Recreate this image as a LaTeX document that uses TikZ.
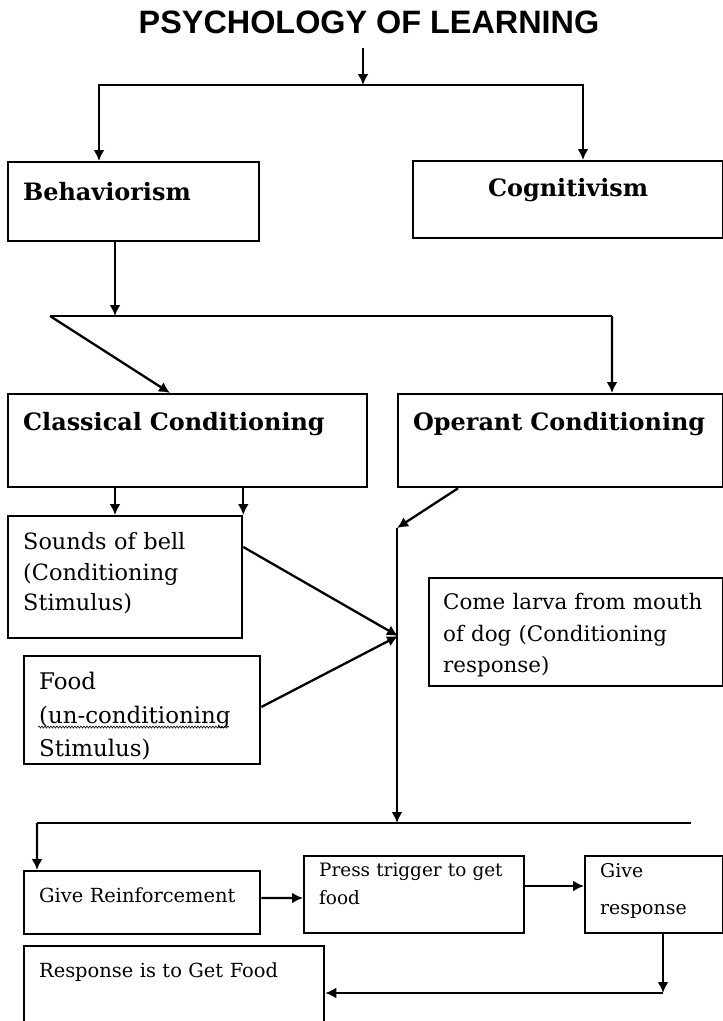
\documentclass[tikz,border=0pt]{standalone}
\usepackage{fontspec}
\setmainfont{DejaVu Serif}
\newfontfamily\titlefont{Liberation Sans}
\usetikzlibrary{arrows.meta,decorations.pathmorphing}

\begin{document}
\begin{tikzpicture}[>={Latex[length=11bp,width=11bp]},line width=2.3bp,
  box/.style={draw,anchor=north west,align=left,inner xsep=15bp,inner ysep=0bp},
  head/.style={box,font=\fontsize{24pt}{28pt}\selectfont\bfseries},
  txt/.style={box,font=\fontsize{22.5pt}{31pt}\selectfont},
  small/.style={box,font=\fontsize{19.5pt}{28pt}\selectfont}]

\useasboundingbox (0bp,0bp) rectangle (723bp,-1021bp);

\node (title) at (369bp,-33bp)[anchor=base,inner ysep=14bp,font=\titlefont\fontsize{32.5pt}{32.5pt}\selectfont\bfseries] {PSYCHOLOGY OF LEARNING};

% first level
\node (beh) at (7bp,-161bp)[head,text width=221bp,text height=38bp,text depth=41bp] {Behaviorism};
\node (cog) at (412bp,-160bp)[head,align=center,text width=280bp,text height=35bp,text depth=42bp] {Cognitivism};

% second level
\node (cla) at (7bp,-393bp)[head,text width=329bp,text height=36bp,text depth=57bp] {\mbox{Classical Conditioning}};
\node (ope) at (397bp,-393bp)[head,text width=295bp,text height=36bp,text depth=57bp] {\mbox{Operant Conditioning}};

% classical conditioning
\node (snd) at (7bp,-515bp)[txt,text width=204bp,text height=33bp,text depth=89bp] {Sounds of bell\\(Conditioning\\Stimulus)};
\node (food) at (23bp,-655bp)[txt,font=\fontsize{23pt}{34pt}\selectfont,text width=206bp,text height=33bp,text depth=75bp] {Food\\(un-conditioning\\Stimulus)};
\node (come) at (428bp,-577bp)[txt,font=\fontsize{21.5pt}{32pt}\selectfont,inner xsep=14bp,text width=266bp,text height=31bp,text depth=77bp] {Come larva from mouth\\of dog (Conditioning\\response)};
\draw [line width=0.6bp,decorate,decoration={snake,amplitude=1bp,segment length=3bp}] ([xshift=15bp,yshift=-72bp]food.north west) -- ++(191bp,0);

% operant conditioning
\node (rein) at (23bp,-870bp)[small,text width=206bp,text height=31bp,text depth=32bp] {Give Reinforcement};
\node (press) at (303bp,-855bp)[small,font=\fontsize{18.5pt}{28pt}\selectfont,text width=190bp,text height=20bp,text depth=57bp] {Press trigger to get\\food};
\node (resp) at (584bp,-855bp)[small,font=\fontsize{19pt}{37pt}\selectfont,text width=108bp,text height=21bp,text depth=56bp] {Give\\response};
\node (get) at (23bp,-945bp)[small,text width=270bp,text height=31bp,text depth=59bp] {Response is to Get Food};

\coordinate (top) at (363bp,-85bp);
\coordinate (split2) at (115bp,-316bp);
\coordinate (l2) at (50bp,-316bp);
\coordinate (r2) at (612bp,-316bp);
\coordinate (dot) at (398bp,-636bp);
\coordinate (v1) at (397bp,-528bp);
\coordinate (split3) at (397bp,-823bp);
\coordinate (l3) at (37bp,-823bp);
\coordinate (r3) at (691bp,-823bp);
\coordinate (c4) at (663bp,-993bp);

\draw [->] (title.south -| top) -- (top);
\draw [->] (top) -| ([xshift=92bp]beh.north west);
\draw [->] (top) -| ([xshift=171bp]cog.north west);
\draw [->] ([xshift=108bp]beh.south west) -- (split2);
\draw (l2) -- (r2);
\draw [->] (l2) -- ([xshift=163bp]cla.north west);
\draw [->] (r2) -- ([xshift=215bp]ope.north west);
\draw [->] ([xshift=108bp]cla.south west) -- ([xshift=108bp]snd.north west);
\draw [->] (snd.north east |- cla.south) -- (snd.north east);
\draw [->] ([yshift=-32bp]snd.north east) -- (dot);
\draw [->] ([yshift=-52bp]food.north east) -- (dot);
\draw [->] ([xshift=61bp]ope.south west) -- (v1);
\draw [->] (v1) -- (split3);
\draw (l3) -- (r3);
\draw [->] (l3) -- ([xshift=14bp]rein.north west);
\draw [->] ([yshift=-28bp]rein.north east) -- ([yshift=-43bp]press.north west);
\draw [->] ([yshift=-31bp]press.north east) -- ([yshift=-31bp]resp.north west);
\draw [->] ([xshift=79bp]resp.south west) -- (c4);
\draw [->] (c4) -- ([yshift=-48bp]get.north east);
\end{tikzpicture}
\end{document}
